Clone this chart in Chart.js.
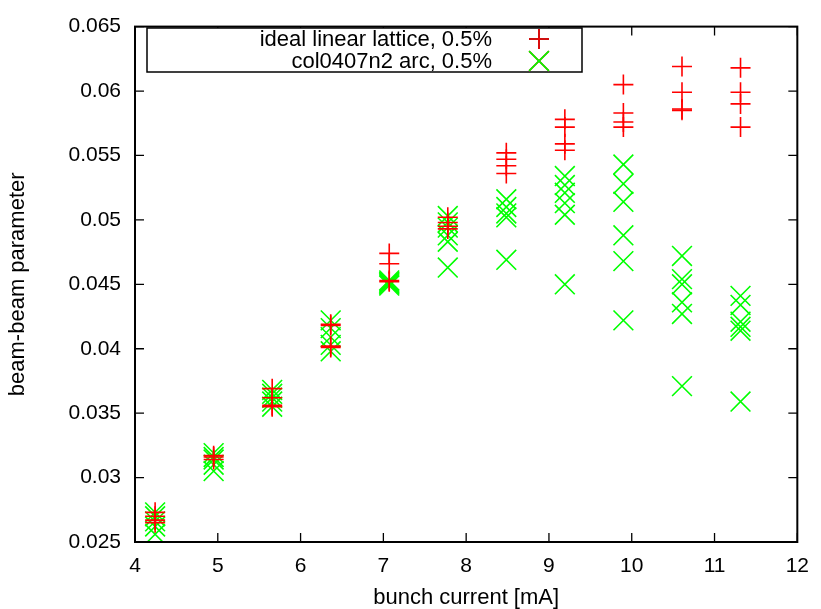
<!DOCTYPE html>
<html>
<head>
<meta charset="utf-8">
<script src="https://cdn.jsdelivr.net/npm/chart.js@4/dist/chart.umd.min.js"></script>
<style>
  html, body { margin: 0; padding: 0; background: #fff; }
  #wrap { width: 821px; height: 609px; }
</style>
</head>
<body>
<div id="wrap"><canvas id="c" width="821" height="609"></canvas></div>
<script>
// bunch currents [mA], one column of runs each
const currents = [4.243, 4.950, 5.657, 6.364, 7.071, 7.778, 8.485, 9.192, 9.899, 10.607, 11.314];

// beam-beam parameter, ideal linear lattice (red +)
const idealValues = [
  [0.0273, 0.0270, 0.0267, 0.0265],
  [0.0317, 0.0314, 0.0316],
  [0.0369, 0.0362, 0.0356, 0.0355],
  [0.0419, 0.0401, 0.0418, 0.0402],
  [0.0474, 0.0466, 0.0453, 0.0452],
  [0.0502, 0.0498, 0.0493, 0.0495],
  [0.0552, 0.0547, 0.0542, 0.0536],
  [0.0578, 0.0572, 0.0559, 0.0554],
  [0.0605, 0.0583, 0.0576, 0.0572],
  [0.0619, 0.0599, 0.0586, 0.0585],
  [0.0618, 0.0599, 0.0590, 0.0572]
];

// beam-beam parameter, col0407n2 arc (green x)
const arcValues = [
  [0.0273, 0.0270, 0.0266, 0.0262, 0.0256],
  [0.0319, 0.0314, 0.0310, 0.0305, 0.0316],
  [0.0368, 0.0362, 0.0359, 0.0355, 0.0365],
  [0.0422, 0.0416, 0.0409, 0.0403, 0.0398],
  [0.0453, 0.0451, 0.0450, 0.0449, 0.0452],
  [0.0503, 0.0498, 0.0494, 0.0488, 0.0483, 0.0463],
  [0.0516, 0.0510, 0.0505, 0.0502, 0.0469],
  [0.0534, 0.0527, 0.0521, 0.0513, 0.0504, 0.0450],
  [0.0543, 0.0528, 0.0514, 0.0488, 0.0468, 0.0422],
  [0.0472, 0.0454, 0.0450, 0.0436, 0.0427, 0.0371],
  [0.0441, 0.0434, 0.0421, 0.0417, 0.0414, 0.0359]
];

const seriesNames = ["ideal linear lattice, 0.5%", "col0407n2 arc, 0.5%"];
const xTicks = [4, 5, 6, 7, 8, 9, 10, 11, 12];
const yTicks = [0.025, 0.03, 0.035, 0.04, 0.045, 0.05, 0.055, 0.06, 0.065];

function toPoints(values) {
  const pts = [];
  values.forEach((col, i) => col.forEach(v => pts.push({ x: currents[i], y: v })));
  return pts;
}

const FONT = "Liberation Sans, Arial, sans-serif";
const TICK_SIZE = 21;
const TEXT_SIZE = 22;

// gnuplot style frame with inward ticks on all four sides, plus the key box
const framePlugin = {
  id: "frame",
  afterDatasetsDraw(chart) {
    const ctx = chart.ctx, a = chart.chartArea;
    const xs = chart.scales.x, ys = chart.scales.y;
    ctx.save();
    ctx.strokeStyle = "#000";
    ctx.lineWidth = 1.3;
    ctx.beginPath();
    xTicks.forEach(t => {
      const px = xs.getPixelForValue(t);
      ctx.moveTo(px, a.bottom); ctx.lineTo(px, a.bottom - 9);
      ctx.moveTo(px, a.top); ctx.lineTo(px, a.top + 9);
    });
    yTicks.forEach(t => {
      const py = ys.getPixelForValue(t);
      ctx.moveTo(a.left, py); ctx.lineTo(a.left + 9, py);
      ctx.moveTo(a.right, py); ctx.lineTo(a.right - 9, py);
    });
    ctx.stroke();
    ctx.lineWidth = 2;
    ctx.strokeRect(a.left, a.top, a.right - a.left, a.bottom - a.top);

    // key
    const lx = 147, ly = 28, lw = 435, lh = 44;
    ctx.fillStyle = "#fff";
    ctx.fillRect(lx, ly, lw, lh);
    ctx.lineWidth = 1.5;
    ctx.strokeRect(lx, ly, lw, lh);
    ctx.fillStyle = "#000";
    ctx.font = TEXT_SIZE + "px " + FONT;
    ctx.textAlign = "right";
    ctx.textBaseline = "middle";
    const rows = [39, 61];
    chart.data.datasets.forEach((ds, i) => {
      ctx.fillText(seriesNames[i], 492, rows[i] + 1);
      Chart.helpers.drawPoint(ctx, {
        pointStyle: ds.pointStyle, radius: ds.pointRadius, borderWidth: ds.borderWidth
      }, 539, rows[i]);
      ctx.strokeStyle = ds.borderColor;
      ctx.lineWidth = ds.borderWidth;
      ctx.stroke();
    });
    ctx.restore();
  }
};

new Chart(document.getElementById("c"), {
  type: "scatter",
  data: {
    datasets: [
      {
        label: seriesNames[0],
        data: toPoints(idealValues),
        pointStyle: "cross",
        pointRadius: 10,
        borderColor: "#ff0000",
        backgroundColor: "#ff0000",
        borderWidth: 1.6
      },
      {
        label: seriesNames[1],
        data: toPoints(arcValues),
        pointStyle: "crossRot",
        pointRadius: 14,
        borderColor: "#00ff00",
        backgroundColor: "#00ff00",
        borderWidth: 1.6
      }
    ]
  },
  options: {
    responsive: false,
    animation: false,
    events: [],
    layout: { padding: { left: 0, right: 16, top: 17, bottom: 0 } },
    plugins: { legend: { display: false }, tooltip: { enabled: false } },
    scales: {
      x: {
        type: "linear",
        min: 4, max: 12,
        afterBuildTicks: s => { s.ticks = xTicks.map(v => ({ value: v })); },
        afterFit: s => { s.height = 67; },
        grid: { display: false, drawTicks: false },
        border: { display: false },
        ticks: { color: "#000", padding: 12, font: { family: FONT, size: TICK_SIZE } },
        title: {
          display: true, text: "bunch current [mA]", color: "#000",
          font: { family: FONT, size: TEXT_SIZE, lineHeight: 1 }, padding: { top: 0, bottom: 0 }
        }
      },
      y: {
        type: "linear",
        min: 0.025, max: 0.065,
        afterBuildTicks: s => { s.ticks = yTicks.map(v => ({ value: v })); },
        afterFit: s => { s.width = 135; },
        grid: { display: false, drawTicks: false },
        border: { display: false },
        ticks: {
          color: "#000", padding: 14, font: { family: FONT, size: TICK_SIZE },
          callback: v => String(parseFloat(v.toFixed(3)))
        },
        title: {
          display: true, text: "beam-beam parameter", color: "#000",
          font: { family: FONT, size: TEXT_SIZE, lineHeight: 1 }, padding: { top: 7, bottom: 0 }
        }
      }
    }
  },
  plugins: [framePlugin]
});
</script>
</body>
</html>
